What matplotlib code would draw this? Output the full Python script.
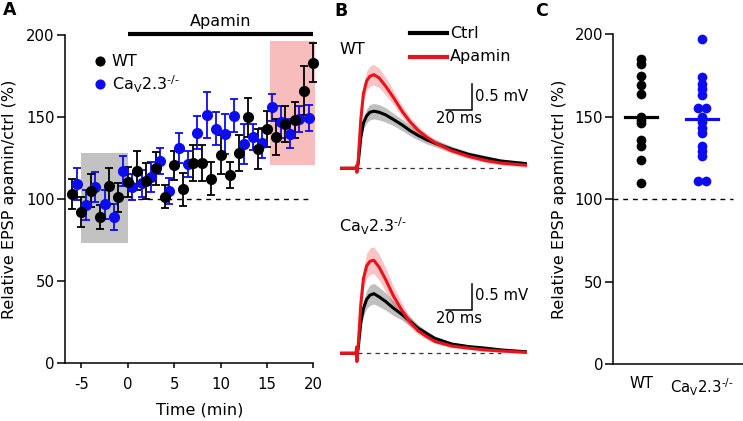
import numpy as np
import matplotlib
matplotlib.use("Agg")
import matplotlib.pyplot as plt
from matplotlib.patches import Rectangle
from matplotlib.lines import Line2D

plt.rcParams['font.family'] = ['DejaVu Sans']
plt.rcParams['mathtext.fontset'] = 'dejavusans'
plt.rcParams['axes.unicode_minus'] = False
plt.rcParams['axes.linewidth'] = 1.1

CA_LABEL = 'Ca$_\\mathrm{V}$2.3$^{\u2010/\u2010}$'
BLUE = '#0c0cf0'
RED = '#e8141b'

# --- panel A: time course (% of baseline) ---
wt_time = list(range(-6, 21))
wt_mean = [103.2, 92, 105, 89, 108.2, 101, 110.5, 117.2, 111.2, 118.7, 101.5, 120.5, 106,
           121.8, 122, 112.5, 127, 114.5, 128, 149.7, 130.5, 142.9, 137.6, 145.7, 148.3, 166.1, 183.2]
wt_sem = [9, 9, 10, 7.5, 11, 9, 9, 12, 11, 10, 7, 9, 10, 11, 11, 10, 12, 8, 11, 12, 12, 11, 11,
          11, 11, 15, 12]
ca_time = [t + 0.5 for t in range(-6, 20)]
ca_mean = [109.2, 96.2, 107.3, 96.7, 89, 117, 107.2, 109.5, 113.5, 123.4, 105, 131.1, 121.4,
           140.4, 151.4, 142.9, 139.6, 150.8, 133.6, 138, 134, 155.8, 147, 139.8, 148.7, 149.3]
ca_sem = [10, 9, 9, 9, 8, 9, 8, 8, 9, 8, 8, 9, 8, 10, 14, 10, 12, 10, 12, 8, 9, 8, 10, 9, 8, 8]

# --- panel B: averaged EPSPs (mV) ---
t_ms = [-13, -0.6, -0.3, 0, 0.4, 1, 2, 3, 5, 7.5, 10, 13, 17, 22, 28, 35, 41, 47, 54, 60,
        73, 86, 99, 111, 130]
wt_ctrl = [0, 0, 0.03, -0.06, 0.02, 0.1, 0.35, 0.6, 0.88, 1.02, 1.09, 1.11, 1.09, 1.04, 0.95,
           0.84, 0.73, 0.64, 0.55, 0.49, 0.37, 0.27, 0.2, 0.14, 0.09]
wt_ctrl_sem = [0, 0, 0, 0, 0, 0.01, 0.04, 0.07, 0.11, 0.14, 0.15, 0.15, 0.15, 0.14, 0.12,
               0.11, 0.1, 0.09, 0.08, 0.07, 0.06, 0.05, 0.045, 0.04, 0.04]
wt_apa = [0, 0, 0.05, -0.08, 0.03, 0.15, 0.55, 0.95, 1.45, 1.7, 1.79, 1.82, 1.76, 1.6, 1.38,
          1.1, 0.9, 0.74, 0.6, 0.5, 0.34, 0.23, 0.15, 0.1, 0.06]
wt_apa_sem = [0, 0, 0, 0, 0, 0.02, 0.06, 0.1, 0.15, 0.19, 0.2, 0.2, 0.19, 0.17, 0.14,
              0.11, 0.09, 0.08, 0.07, 0.06, 0.05, 0.045, 0.04, 0.04, 0.04]
ca_ctrl = [0, 0, 0.06, -0.12, 0.02, 0.1, 0.35, 0.6, 0.87, 1.05, 1.13, 1.16, 1.1, 1.01, 0.88,
           0.75, 0.62, 0.49, 0.38, 0.29, 0.18, 0.13, 0.1, 0.065, 0.03]
ca_ctrl_sem = [0, 0, 0, 0, 0, 0.02, 0.06, 0.1, 0.15, 0.18, 0.2, 0.2, 0.19, 0.17, 0.14,
               0.11, 0.09, 0.07, 0.05, 0.04, 0.03, 0.03, 0.03, 0.03, 0.03]
ca_apa = [0, 0, 0.12, -0.16, 0.03, 0.15, 0.55, 0.95, 1.45, 1.7, 1.79, 1.81, 1.68, 1.44, 1.12,
          0.82, 0.6, 0.44, 0.32, 0.23, 0.14, 0.1, 0.065, 0.045, 0.02]
ca_apa_sem = [0, 0, 0, 0, 0, 0.03, 0.08, 0.13, 0.2, 0.24, 0.26, 0.26, 0.25, 0.23, 0.19,
              0.14, 0.1, 0.07, 0.05, 0.04, 0.03, 0.03, 0.03, 0.03, 0.03]

# --- panel C: individual cells ---
groups = ['WT', CA_LABEL]
wt_ratio = [185, 182, 175, 169, 164, 150, 148, 146, 136, 132, 124, 110]
ca_ratio = [197, 174, 170, 167, 163, 155, 155, 150, 147, 143, 140, 132, 129, 126, 111, 111]
group_means = [150, 148.5]

W, H = 743, 421
fig = plt.figure(figsize=(W / 100, H / 100), dpi=100)


def px_axes(left, top, right, bottom):
    return fig.add_axes([left / W, 1 - bottom / H, (right - left) / W, (bottom - top) / H])


def ftext(x, y, s, **kw):
    fig.text(x / W, 1 - y / H, s, **kw)


def fline(x0, x1, y, **kw):
    fig.add_artist(Line2D([x0 / W, x1 / W], [1 - y / H, 1 - y / H],
                          transform=fig.transFigure, **kw))


# ---------------- A ----------------
axA = px_axes(65, 35, 313.3, 363)
axA.add_patch(Rectangle((-5, 73), 5, 55, color='#c2c2c2', lw=0, zorder=0))
axA.add_patch(Rectangle((15.3, 120.5), 4.9, 76, color='#f7bcbc', lw=0, zorder=0, clip_on=False))
axA.plot([0, 20], [100, 100], color='k', lw=1, ls=(0, (3.5, 3.5)), zorder=1)

for t, m, s, c in [(ca_time, ca_mean, ca_sem, BLUE), (wt_time, wt_mean, wt_sem, 'k')]:
    eb = axA.errorbar(t, m, yerr=s, fmt='o', color=c, ms=7, mec=c, elinewidth=1.3,
                      capsize=3.2, capthick=1.3, zorder=3)
    for art in eb.get_children():
        art.set_clip_on(False)

axA.plot([0, 20], [200.5, 200.5], color='k', lw=3, solid_capstyle='butt', clip_on=False)
axA.text(10, 208.5, 'Apamin', ha='center', va='center', fontsize=11.5)

axA.plot([-2.98], [184.1], 'o', color='k', ms=7.3, mew=0, clip_on=False)
axA.plot([-2.98], [170.1], 'o', color=BLUE, ms=7.3, mew=0, clip_on=False)
axA.text(-1.7, 184.1, 'WT', va='center', fontsize=11.5)
axA.text(-1.7, 170.1, CA_LABEL, va='center', fontsize=11.5)

axA.set_xlim(-6.76, 20)
axA.set_ylim(0, 200)
axA.set_xticks([-5, 0, 5, 10, 15, 20])
axA.set_yticks([0, 50, 100, 150, 200])
axA.spines[['top', 'right']].set_visible(False)
axA.tick_params(direction='out', width=1.1, labelsize=10.7)
axA.tick_params(axis='x', length=3.8, pad=6)
axA.tick_params(axis='y', length=5.5, pad=1.8)
axA.set_xlabel('Time (min)', fontsize=11.5)
axA.set_ylabel('Relative EPSP apamin/ctrl (%)', fontsize=11.5)
axA.xaxis.set_label_coords(0.544, -0.121)
axA.yaxis.set_label_coords(-0.195, 0.5)

# ---------------- B ----------------
traces = [(px_axes(340, 34.6, 527, 183.7), wt_ctrl, wt_ctrl_sem, wt_apa, wt_apa_sem, 1.13),
          (px_axes(340, 219.7, 527, 368.7), ca_ctrl, ca_ctrl_sem, ca_apa, ca_apa_sem, 0.85)]
for ax, ctrl, ctrl_sem, apa, apa_sem, bar_y in traces:
    ctrl, ctrl_sem, apa, apa_sem = map(np.array, (ctrl, ctrl_sem, apa, apa_sem))
    ax.plot([-13, 111], [0, 0], color='#333333', lw=0.9, ls=(0, (3.5, 3.5)), zorder=1)
    ax.fill_between(t_ms, ctrl - ctrl_sem, ctrl + ctrl_sem, color='k', alpha=0.25, lw=0)
    ax.fill_between(t_ms, apa - apa_sem, apa + apa_sem, color=RED, alpha=0.25, lw=0)
    ax.plot(t_ms, ctrl, color='k', lw=2.2)
    ax.plot(t_ms, apa, color=RED, lw=2.2)
    # scale bar 20 ms / 0.5 mV
    ax.plot([68.5, 88.5, 88.5], [bar_y, bar_y, bar_y + 0.5], color='k', lw=1.1,
            solid_joinstyle='miter')
    ax.text(90.5, bar_y + 0.27, '0.5 mV', va='center', fontsize=10.7)
    ax.text(78.5, bar_y - 0.17, '20 ms', ha='center', va='center', fontsize=10.7)
    ax.set_xlim(-13, 130.8)
    ax.set_ylim(-0.3, 2.6)
    ax.axis('off')

ftext(339, 49, 'WT', va='center', fontsize=11.5)
ftext(339, 226, CA_LABEL, va='center', fontsize=11.5)
fline(410, 447, 33, color='k', lw=3)
fline(410, 447, 57, color=RED, lw=3)
ftext(450, 33, 'Ctrl', va='center', fontsize=11.5)
ftext(450, 57, 'Apamin', va='center', fontsize=11.5)

# ---------------- C ----------------
axC = px_axes(613.3, 34.3, 743, 364)


def spread(vals, step=0.065):
    offs = []
    for i, v in enumerate(vals):
        n = vals.count(v)
        k = vals[:i].count(v)
        offs.append((k - (n - 1) / 2) * 2 * step)
    return offs


for i, (vals, c) in enumerate([(wt_ratio, 'k'), (ca_ratio, BLUE)]):
    xs = [i + o for o in spread(vals)]
    axC.plot(xs, vals, 'o', color=c, ms=7, mew=0, zorder=3)
    axC.plot([i - 0.26, i + 0.26], [group_means[i]] * 2, color=c, lw=2.3, zorder=4)

axC.plot([-0.454, 1.5], [100, 100], color='k', lw=1, ls=(0, (3.5, 3.5)))
axC.set_xlim(-0.454, 1.67)
axC.set_ylim(0, 200)
axC.set_xticks([0, 1])
axC.set_xticklabels(groups)
axC.set_yticks([0, 50, 100, 150, 200])
axC.spines[['top', 'right']].set_visible(False)
axC.tick_params(direction='out', width=1.1, labelsize=10.7)
axC.tick_params(axis='x', length=0, pad=9)
axC.tick_params(axis='y', length=5.5, pad=1.8)
axC.set_ylabel('Relative EPSP apamin/ctrl (%)', fontsize=11.5)
axC.yaxis.set_label_coords(-0.357, 0.5)

# panel letters
ftext(3, 10, 'A', va='center', fontsize=12.5, fontweight='bold')
ftext(334, 11, 'B', va='center', fontsize=12.5, fontweight='bold')
ftext(535, 11, 'C', va='center', fontsize=12.5, fontweight='bold')

fig.savefig('out.png', dpi=100)
